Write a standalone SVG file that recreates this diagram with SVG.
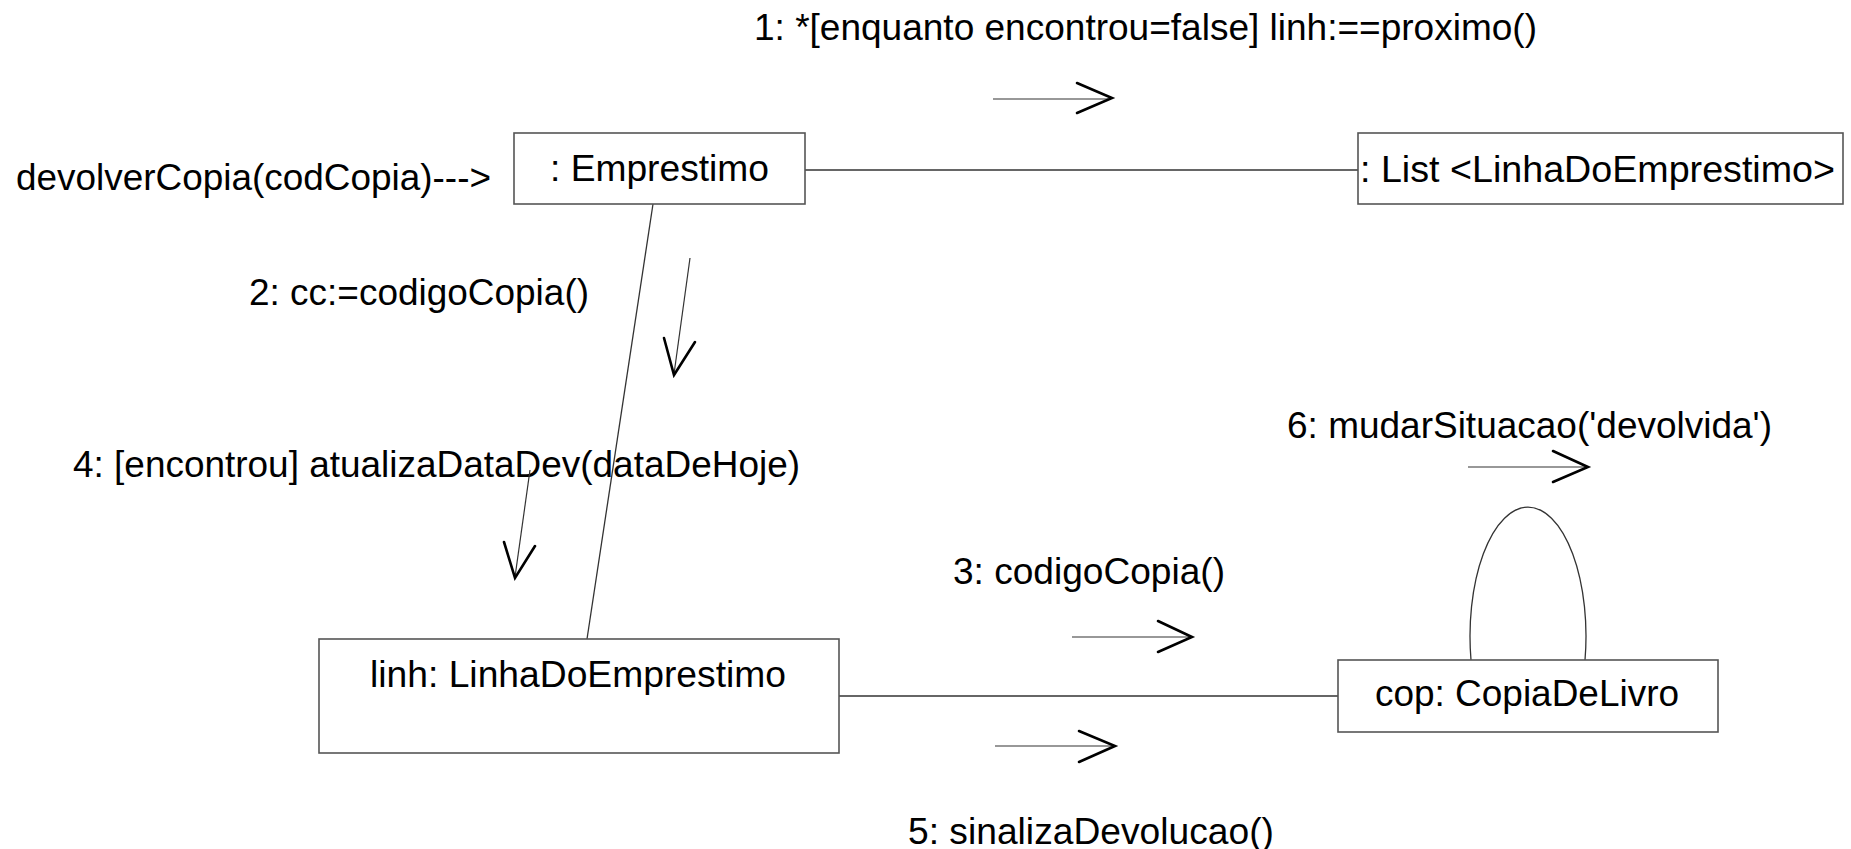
<svg xmlns="http://www.w3.org/2000/svg" width="1851" height="849" viewBox="0 0 1851 849">
<style>
.box{fill:#fff;stroke:#555;stroke-width:1.6}
.lbl{font-family:"Liberation Sans",Arial,sans-serif;font-size:36px;fill:#000}
.assoc{stroke:#333;stroke-width:1.3;fill:none}
.shaft{stroke:#333;stroke-width:1.2;fill:none}
.head{stroke:#000;stroke-width:2.6;fill:none;stroke-linecap:round;stroke-linejoin:miter}
</style>
<rect width="1851" height="849" fill="#fff"/>
<g id="connectors">
  <line class="assoc" x1="805" y1="170" x2="1358" y2="170"/>
  <line class="assoc" x1="653" y1="204" x2="587" y2="639"/>
  <line class="assoc" x1="839" y1="696" x2="1338" y2="696"/>
  <path class="assoc" d="M1471,660 A58,129 0 1 1 1585,660"/>
</g>
<g id="messages">
  <g id="msg1">
    <text class="lbl" x="754" y="40" textLength="783" lengthAdjust="spacingAndGlyphs">1: *[enquanto encontrou=false] linh:==proximo()</text>
    <line class="shaft" x1="993" y1="99" x2="1111" y2="99"/>
    <polyline class="head" points="1077,83 1112,98 1077,113"/>
  </g>
  <g id="msg0">
    <text class="lbl" x="16" y="190" textLength="475" lengthAdjust="spacingAndGlyphs">devolverCopia(codCopia)---&gt;</text>
  </g>
  <g id="msg2">
    <text class="lbl" x="249" y="305" textLength="340" lengthAdjust="spacingAndGlyphs">2: cc:=codigoCopia()</text>
    <line class="shaft" x1="690" y1="258" x2="674" y2="374"/>
    <polyline class="head" points="664,338 674,375 695,342"/>
  </g>
  <g id="msg4">
    <text class="lbl" x="73" y="477" textLength="727" lengthAdjust="spacingAndGlyphs">4: [encontrou] atualizaDataDev(dataDeHoje)</text>
    <line class="shaft" x1="530" y1="470" x2="515" y2="577"/>
    <polyline class="head" points="504,542 515,578 535,546"/>
  </g>
  <g id="msg3">
    <text class="lbl" x="953" y="584" textLength="272" lengthAdjust="spacingAndGlyphs">3: codigoCopia()</text>
    <line class="shaft" x1="1072" y1="637" x2="1191" y2="637"/>
    <polyline class="head" points="1158,621 1192,637 1158,652"/>
  </g>
  <g id="msg5">
    <text class="lbl" x="908" y="844" textLength="366" lengthAdjust="spacingAndGlyphs">5: sinalizaDevolucao()</text>
    <line class="shaft" x1="995" y1="746" x2="1114" y2="746"/>
    <polyline class="head" points="1079,731 1115,746 1079,762"/>
  </g>
  <g id="msg6">
    <text class="lbl" x="1287" y="438" textLength="485" lengthAdjust="spacingAndGlyphs">6: mudarSituacao('devolvida')</text>
    <line class="shaft" x1="1468" y1="467" x2="1587" y2="467"/>
    <polyline class="head" points="1553,451 1588,467 1553,482"/>
  </g>
</g>
<g id="emprestimo">
  <rect class="box" x="514" y="133" width="291" height="71"/>
  <text class="lbl" x="550" y="181" textLength="219" lengthAdjust="spacingAndGlyphs">: Emprestimo</text>
</g>
<g id="list">
  <rect class="box" x="1358" y="133" width="485" height="71"/>
  <text class="lbl" x="1360" y="182" textLength="475" lengthAdjust="spacingAndGlyphs">: List &lt;LinhaDoEmprestimo&gt;</text>
</g>
<g id="linh">
  <rect class="box" x="319" y="639" width="520" height="114"/>
  <text class="lbl" x="370" y="687" textLength="416" lengthAdjust="spacingAndGlyphs">linh: LinhaDoEmprestimo</text>
</g>
<g id="cop">
  <rect class="box" x="1338" y="660" width="380" height="72"/>
  <text class="lbl" x="1375" y="706" textLength="304" lengthAdjust="spacingAndGlyphs">cop: CopiaDeLivro</text>
</g>
</svg>
